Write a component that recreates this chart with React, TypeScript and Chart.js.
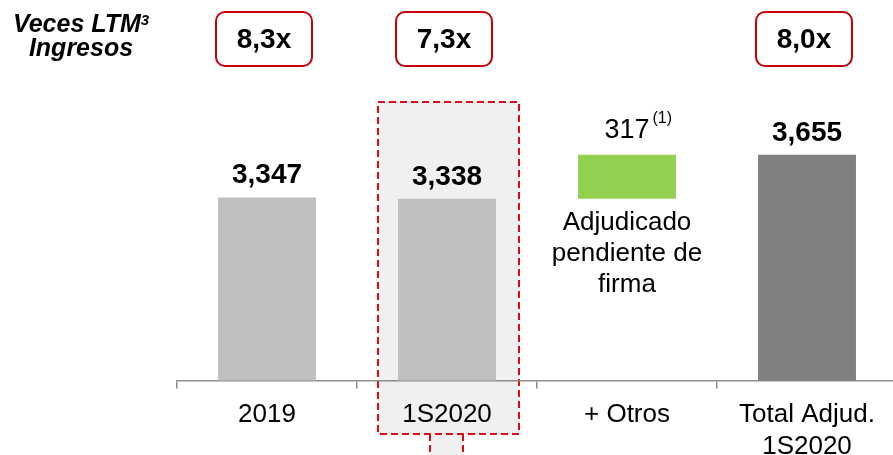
import React, { useEffect, useRef } from "react";
import { Chart, registerables } from "chart.js";

Chart.register(...registerables);

// ---- Data ----
const categories: string[][] = [["2019"], ["1S2020"], ["+ Otros"], ["Total Adjud.", "1S2020"]];
const backlogValues = [3347, 3338];
const otrosValue = 317;
const totalValue = 3655;
const valueLabels = ["3,347", "3,338", "317", "3,655"];
const multiples = ["8,3x", "7,3x", "", "8,0x"];
const otrosNote = ["Adjudicado", "pendiente de", "firma"];
const otrosFootnote = "(1)";
const titleMain = "Veces LTM";
const titleSup = "3";
const titleSecond = "Ingresos";
const barColors = ["#bfbfbf", "#bfbfbf", "#92d050", "#808080"];

const FONT = "'Liberation Sans', Arial, Helvetica, sans-serif";

const decorPlugin = {
  id: "decor",
  beforeDraw(chart: any) {
    const ctx = chart.ctx;
    const meta = chart.getDatasetMeta(0);
    const el = meta.data[1];
    if (!el) return;
    const left = el.x - 69;
    const right = el.x + 72;
    const top = 102;
    const bottom = 434;
    ctx.save();
    ctx.fillStyle = "#f0f0f0";
    ctx.fillRect(left, top, right - left, bottom - top);
    ctx.fillRect(el.x - 17, bottom, 33, 40);
    ctx.strokeStyle = "#dc0a14";
    ctx.lineWidth = 2;
    ctx.setLineDash([7, 4]);
    ctx.strokeRect(left, top, right - left, bottom - top);
    ctx.beginPath();
    ctx.moveTo(el.x - 17, bottom);
    ctx.lineTo(el.x - 17, bottom + 40);
    ctx.moveTo(el.x + 16, bottom);
    ctx.lineTo(el.x + 16, bottom + 40);
    ctx.stroke();
    ctx.restore();
  },
  afterDatasetsDraw(chart: any) {
    const ctx = chart.ctx;
    const meta = chart.getDatasetMeta(0);
    ctx.save();
    ctx.fillStyle = "#000";
    ctx.textAlign = "center";
    ctx.textBaseline = "alphabetic";
    meta.data.forEach((el: any, i: number) => {
      if (i === 2) {
        ctx.font = `27px ${FONT}`;
        ctx.textAlign = "center";
        ctx.fillText(valueLabels[i], el.x, el.y - 17);
        const w = ctx.measureText(valueLabels[i]).width;
        ctx.font = `16px ${FONT}`;
        ctx.textAlign = "left";
        ctx.fillText(otrosFootnote, el.x + w / 2 + 3, el.y - 32);
        ctx.textAlign = "center";
        ctx.font = `26px ${FONT}`;
        otrosNote.forEach((line, j) => {
          ctx.fillText(line, el.x, el.base + 31 + 31 * j);
        });
      } else {
        ctx.font = `bold 28px ${FONT}`;
        ctx.textAlign = "center";
        ctx.fillText(valueLabels[i], el.x, el.y - 14);
      }
      // multiples boxes
      if (multiples[i]) {
        const cx = el.x - 3;
        ctx.beginPath();
        ctx.roundRect(cx - 48, 12, 96, 54, 9);
        ctx.fillStyle = "#ffffff";
        ctx.fill();
        ctx.strokeStyle = "#c8000a";
        ctx.lineWidth = 2;
        ctx.stroke();
        ctx.fillStyle = "#000";
        ctx.font = `bold 28px ${FONT}`;
        ctx.textAlign = "center";
        ctx.fillText(multiples[i], cx, 48);
      }
    });
    // title
    ctx.font = `italic bold 25px ${FONT}`;
    const w1 = ctx.measureText(titleMain).width;
    ctx.font = `italic bold 15px ${FONT}`;
    const w2 = ctx.measureText(titleSup).width;
    const start = 81 - (w1 + w2) / 2;
    ctx.textAlign = "left";
    ctx.font = `italic bold 25px ${FONT}`;
    ctx.fillText(titleMain, start, 32);
    ctx.font = `italic bold 15px ${FONT}`;
    ctx.fillText(titleSup, start + w1, 25);
    ctx.font = `italic bold 25px ${FONT}`;
    ctx.textAlign = "center";
    ctx.fillText(titleSecond, 81, 56);
    ctx.restore();
  },
};

export default function App() {
  const ref = useRef<HTMLCanvasElement | null>(null);
  useEffect(() => {
    if (!ref.current) return;
    const data: any[] = [
      backlogValues[0],
      backlogValues[1],
      [backlogValues[1], backlogValues[1] + otrosValue],
      totalValue,
    ];
    const chart = new Chart(ref.current, {
      type: "bar",
      data: {
        labels: categories,
        datasets: [
          {
            data,
            backgroundColor: barColors,
            borderWidth: 0,
            barPercentage: 0.544,
            categoryPercentage: 1,
          },
        ],
      },
      options: {
        animation: false,
        responsive: false,
        devicePixelRatio: 1,
        layout: { padding: { left: 177, right: 3, top: 100, bottom: 0 } },
        plugins: {
          legend: { display: false },
          tooltip: { enabled: false },
          title: { display: false },
        },
        scales: {
          y: { display: false, min: 2025, max: 4050 },
          x: {
            offset: true,
            grid: {
              display: true,
              drawOnChartArea: false,
              drawTicks: true,
              tickLength: 8,
              color: "#8c8c8c",
              lineWidth: 1.5,
            },
            border: { display: true, color: "#8c8c8c", width: 1.5 },
            ticks: {
              color: "#000",
              padding: 11,
              font: { family: FONT, size: 26, lineHeight: 1.2 },
              maxRotation: 0,
              autoSkip: false,
            },
          },
        },
      },
      plugins: [decorPlugin],
    });
    return () => chart.destroy();
  }, []);
  return (
    <div
      style={{
        position: "fixed",
        left: 0,
        top: 0,
        width: 893,
        height: 455,
        overflow: "hidden",
        background: "#fff",
      }}
    >
      <canvas ref={ref} width={900} height={473} style={{ display: "block" }} />
    </div>
  );
}
